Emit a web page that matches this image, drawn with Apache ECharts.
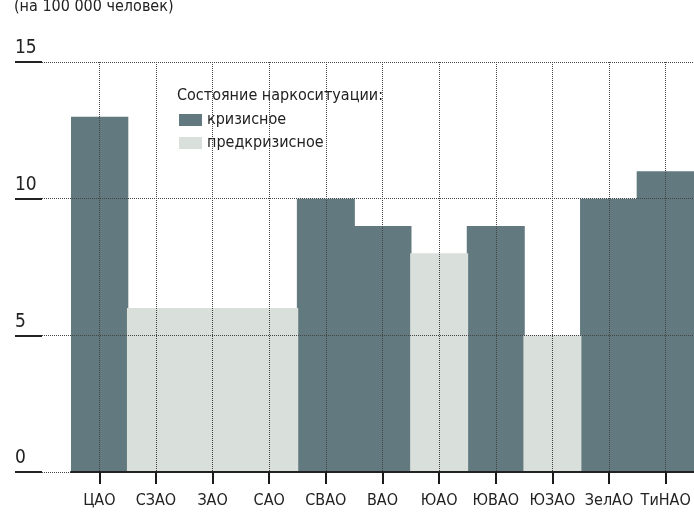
<!DOCTYPE html>
<html><head><meta charset="utf-8">
<script src="https://cdn.jsdelivr.net/npm/echarts@6/dist/echarts.min.js"></script>
<style>html,body{margin:0;padding:0;background:#fff}#c{width:694px;height:517px}</style>
</head><body><div id="c"></div>
<script>
const categories = ['ЦАО','СЗАО','ЗАО','САО','СВАО','ВАО','ЮАО','ЮВАО','ЮЗАО','ЗелАО','ТиНАО'];
const crisis     = [13, '-', '-', '-', 10, 9, '-', 9, '-', 10, 11];
const preCrisis  = ['-', 6, 6, 6, '-', '-', 8, '-', 5, '-', '-'];
const yTicks = [0, 5, 10, 15];
const FONT = "'Liberation Sans Narrow','DejaVu Sans Condensed','Roboto Condensed','Roboto',sans-serif";
const chart = echarts.init(document.getElementById('c'), null, {renderer:'canvas'});
chart.setOption({
  animation:false,
  textStyle:{fontFamily:FONT},
  title:[{text:'(на 100 000 человек)',left:14,top:-1,padding:0,textStyle:{fontFamily:FONT,fontSize:16,fontWeight:'normal',color:'#222'}},
         {text:'Состояние наркоситуации:',left:177,top:88,padding:0,textStyle:{fontFamily:FONT,fontSize:16,fontWeight:'normal',color:'#222'}}],
  legend:{orient:'vertical',left:179,top:112,padding:0,itemWidth:23,itemHeight:12,itemGap:7,icon:'rect',
    textStyle:{fontFamily:FONT,fontSize:16,color:'#222'},data:['кризисное','предкризисное']},
  grid:[{left:71,width:627,top:62,bottom:45},{left:42,right:0,top:62,bottom:45}],
  xAxis:[{type:'category',gridIndex:0,data:categories,z:10,
      axisLine:{show:true,lineStyle:{color:'#222',width:2}},
      axisTick:{show:true,inside:false,interval:0,alignWithLabel:true,length:12,lineStyle:{color:'#1a1a1a',width:2}},
      axisLabel:{interval:0,fontFamily:FONT,fontSize:16,color:'#222',margin:21},
      splitLine:{show:true,interval:0,alignWithLabel:true,lineStyle:{color:'#444',type:[1,1],width:1}}},
    {type:'value',gridIndex:1,show:false,min:0,max:1}],
  yAxis:[{type:'value',gridIndex:0,min:0,max:15,interval:5,show:false},
    {type:'value',gridIndex:1,min:0,max:15,interval:5,z:10,
      axisLine:{show:false},
      axisTick:{show:true,length:27,lineStyle:{color:'#222',width:2}},
      axisLabel:{fontFamily:FONT,fontSize:19,color:'#222',align:'left',verticalAlign:'bottom',margin:27,padding:[0,0,4,0],
        formatter:function(v){return yTicks.indexOf(v)>=0?String(v):'';}},
      splitLine:{show:true,lineStyle:{color:'#444',type:[1,1],width:1}}}],
  series:[
    {name:'кризисное',type:'bar',stack:'a',xAxisIndex:0,yAxisIndex:0,data:crisis,barWidth:58,
      itemStyle:{color:'#627a7f'}},
    {name:'предкризисное',type:'bar',stack:'a',xAxisIndex:0,yAxisIndex:0,data:preCrisis,barWidth:58,
      itemStyle:{color:'#d9dfdb'}}
  ]
});
</script></body></html>
